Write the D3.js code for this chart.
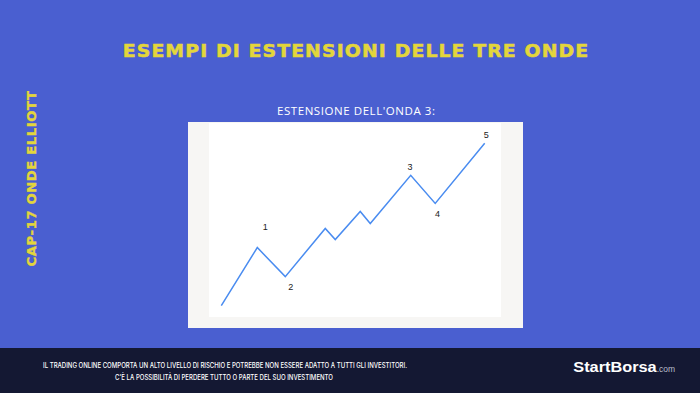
<!DOCTYPE html>
<html><head><meta charset="utf-8">
<script src="https://cdn.jsdelivr.net/npm/d3@7"></script>
<style>html,body{margin:0;padding:0;background:#4a5fd0;}svg{display:block;}</style>
</head><body>
<svg id="c" width="700" height="393"></svg>
<script>
// Wave path (time units, price units)
const waveX = [0, 36, 64, 104, 114, 139, 149, 189.5, 214, 263.5];
const waveY = [0, 58, 29, 77, 66, 94, 82, 130, 102, 162];
// Wave labels
const labelText = ["1", "2", "3", "4", "5"];
const labelIdx = [1, 2, 7, 8, 9];
const labelDX = [8, 5.5, -0.7, 2.4, 1.6];
const labelDY = [20.4, -9.7, 8.3, -10, 8.3];

const title = "ESEMPI DI ESTENSIONI DELLE TRE ONDE";
const sideTitle = "CAP-17 ONDE ELLIOTT";
const subTitle = "ESTENSIONE DELL'ONDA 3:";
const footer1 = "IL TRADING ONLINE COMPORTA UN ALTO LIVELLO DI RISCHIO E POTREBBE NON ESSERE ADATTO A TUTTI GLI INVESTITORI.";
const footer2 = "C'È LA POSSIBILITÀ DI PERDERE TUTTO O PARTE DEL SUO INVESTIMENTO";

const svg = d3.select("#c");
svg.append("rect").attr("width",700).attr("height",393).attr("fill","#4a5fd0");

function fitText(sel, cx, cy, rot, target) {
  const w = sel.node().getComputedTextLength();
  const s = target / w;
  sel.attr("transform", `translate(${cx},${cy}) rotate(${rot}) scale(${s},1)`);
}

const t1 = svg.append("text").text(title).attr("x",0).attr("y",0)
  .attr("text-anchor","middle").attr("fill","#e3d63b")
  .attr("stroke","#e3d63b").attr("stroke-width",0.5)
  .attr("font-family","'DejaVu Sans', sans-serif").attr("font-weight",700).attr("font-size",17.5)
  .style("letter-spacing","1px");
fitText(t1, 356, 57.3, 0, 467);

const t2 = svg.append("text").text(sideTitle).attr("x",0).attr("y",0)
  .attr("text-anchor","middle").attr("fill","#e3d63b")
  .attr("stroke","#e3d63b").attr("stroke-width",0.4)
  .attr("font-family","'DejaVu Sans', sans-serif").attr("font-weight",700).attr("font-size",13)
  .style("letter-spacing","0.6px");
fitText(t2, 35.8, 178.5, -90, 176);

svg.append("text").text(subTitle).attr("x",356).attr("y",115)
  .attr("text-anchor","middle").attr("fill","#ffffff")
  .attr("font-family","'Open Sans', sans-serif").attr("font-weight",500).attr("font-size",11.5)
  .attr("textLength",158).attr("lengthAdjust","spacing");

// panel
svg.append("rect").attr("x",188).attr("y",122).attr("width",335).attr("height",206).attr("fill","#f7f6f4");
svg.append("rect").attr("x",209).attr("y",123).attr("width",292).attr("height",194).attr("fill","#ffffff");

const x = d3.scaleLinear().domain([0, 263.5]).range([221.3, 484.7]);
const y = d3.scaleLinear().domain([0, 162]).range([305.7, 143.3]);
const pts = waveX.map((v,i)=>[v, waveY[i]]);
svg.append("path").datum(pts)
  .attr("d", d3.line().x(d=>x(d[0])).y(d=>y(d[1])))
  .attr("fill","none").attr("stroke","#4a8cf0").attr("stroke-width",1.5);

svg.selectAll("text.lbl").data(labelText).join("text").attr("class","lbl")
  .text(d=>d)
  .attr("x",(d,i)=>x(waveX[labelIdx[i]])+labelDX[i])
  .attr("y",(d,i)=>y(waveY[labelIdx[i]])-labelDY[i]+3.3)
  .attr("text-anchor","middle").attr("fill","#222")
  .attr("font-family","'Liberation Sans', Arial, sans-serif").attr("font-size",9);

// footer
svg.append("rect").attr("x",0).attr("y",348).attr("width",700).attr("height",45).attr("fill","#141833");
svg.append("text").text(footer1).attr("x",225).attr("y",368.2)
  .attr("text-anchor","middle").attr("fill","#ffffff")
  .attr("font-family","Inter, sans-serif").attr("font-weight",500).attr("font-size",7)
  .attr("textLength",364).attr("lengthAdjust","spacingAndGlyphs");
svg.append("text").text(footer2).attr("x",224).attr("y",380.2)
  .attr("text-anchor","middle").attr("fill","#ffffff")
  .attr("font-family","Inter, sans-serif").attr("font-weight",500).attr("font-size",7)
  .attr("textLength",218).attr("lengthAdjust","spacingAndGlyphs");

const logo = svg.append("text").attr("x",573.3).attr("y",372.3)
  .attr("font-family","'Liberation Sans', Arial, sans-serif");
logo.append("tspan").text("StartBorsa").attr("fill","#ffffff").attr("font-weight",700).attr("font-size",14)
  .attr("textLength",83.4).attr("lengthAdjust","spacingAndGlyphs");
logo.append("tspan").text(".com").attr("fill","#b8bccb").attr("font-size",8.5);
</script>
</body></html>
